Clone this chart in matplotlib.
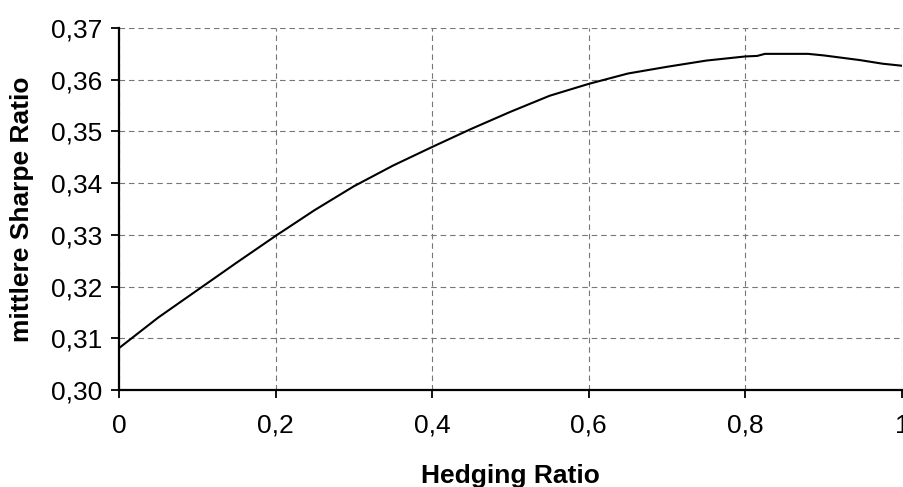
import matplotlib
matplotlib.use('Agg')
import matplotlib.pyplot as plt
from matplotlib.ticker import FuncFormatter

# Hedging ratio vs mittlere Sharpe Ratio
hedge = [0.0, 0.05, 0.10, 0.15, 0.20, 0.25, 0.30, 0.35, 0.40, 0.45, 0.50,
         0.55, 0.60, 0.65, 0.70, 0.75, 0.80, 0.815, 0.825, 0.88, 0.90,
         0.946, 0.975, 1.0]
sharpe = [0.3081, 0.3140, 0.3193, 0.3246, 0.3298, 0.3348, 0.3394, 0.3434,
          0.3470, 0.3505, 0.3538, 0.3569, 0.3592, 0.3612, 0.3625, 0.3637,
          0.3645, 0.3646, 0.3650, 0.3650, 0.3647, 0.3638, 0.3631, 0.3627]

xticks = [0, 0.2, 0.4, 0.6, 0.8, 1.0]
yticks = [0.30, 0.31, 0.32, 0.33, 0.34, 0.35, 0.36, 0.37]

plt.rcParams['font.family'] = ['Liberation Sans', 'DejaVu Sans']

fig = plt.figure(figsize=(9.04, 4.87), dpi=100)
ax = fig.add_axes([119/904, 1-390/487, 783/904, 362/487])

ax.plot(hedge, sharpe, color='black', lw=1.5, zorder=3)

ax.set_xlim(0, 1)
ax.set_ylim(0.30, 0.37)
ax.set_xticks(xticks)
ax.set_yticks(yticks)
ax.xaxis.set_major_formatter(FuncFormatter(lambda v, p: ('%g' % v).replace('.', ',')))
ax.yaxis.set_major_formatter(FuncFormatter(lambda v, p: ('%.2f' % v).replace('.', ',')))

ax.grid(True, color='#777777', linestyle=(0, (5, 3.5)), lw=0.8)
for s in ['top', 'right']:
    ax.spines[s].set_visible(False)
for s in ['left', 'bottom']:
    ax.spines[s].set_linewidth(1.6)
ax.tick_params(axis='both', direction='out', length=6, width=1.3, labelsize=19, colors='black')
ax.tick_params(axis='x', pad=11)
ax.tick_params(axis='y', pad=6)

fig.text(510/904, 1-483/487, 'Hedging Ratio', ha='center', va='baseline',
         fontsize=19, fontweight='bold')
fig.text(22/904, 0.5 * ((1-390/487) + (1-28/487)), 'mittlere Sharpe Ratio',
         ha='center', va='center', rotation=90, fontsize=19, fontweight='bold')

fig.savefig('out.png', dpi=100)
